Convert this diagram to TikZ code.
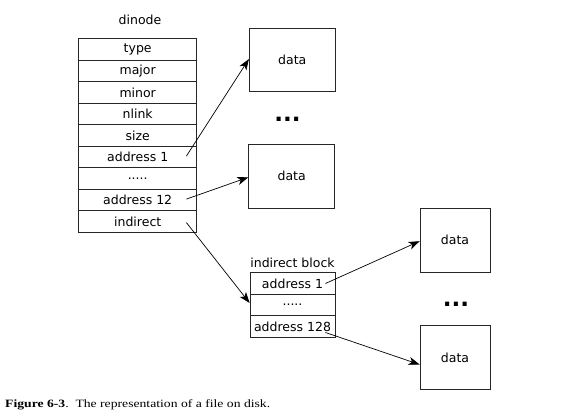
\documentclass[tikz,border=0pt]{standalone}
\usepackage{fontspec}
\setmainfont{Liberation Serif}
\newfontfamily\dejavu{DejaVu Sans}
\newfontfamily\capfont[FakeStretch=1.22]{Liberation Serif}
\usetikzlibrary{arrows.meta}
\begin{document}
\begin{tikzpicture}[x=1pt,y=-1pt,
  row/.style={draw=black!85,line width=0.8pt,minimum width=118pt,minimum height=21.5pt,inner sep=0pt,font=\dejavu\fontsize{12.5}{14}\selectfont},
  irow/.style={draw=black!85,line width=0.8pt,minimum width=85pt,minimum height=21.5pt,inner sep=0pt,font=\dejavu\fontsize{12.5}{14}\selectfont},
  databox/.style={draw=black!85,line width=0.8pt,minimum width=86pt,minimum height=63.5pt,inner sep=0pt,font=\dejavu\fontsize{12.5}{14}\selectfont},
  lbl/.style={font=\dejavu\fontsize{12.5}{14}\selectfont,inner sep=0pt},
  dots/.style={font=\dejavu\bfseries\fontsize{23}{25}\selectfont,inner sep=0pt},
  conn/.style={line width=0.7pt,-{Stealth[length=11pt,width=8pt,inset=3pt]}}]
\useasboundingbox (0,0) rectangle (582,417);
% dinode table
\node[lbl] (dlabel) at (140,20) {dinode};
\node[row] (type)  at (137.7,49.6) {type};
\node[row] (major) at (137.7,71.1) {major};
\node[row] (minor) at (137.7,92.6) {minor};
\node[row] (nlink) at (137.7,114.1) {nlink};
\node[row] (size)  at (137.7,135.6) {size};
\node[row] (addr1) at (137.7,157.1) {address 1};
\node[row] (ddots) at (137.7,178.6) {.....};
\node[row] (addr12) at (137.7,200.1) {address 12};
\node[row] (ind)   at (137.7,221.6) {indirect};
% data boxes
\node[databox] (d1) at (292.3,60) {data};
\node[dots] (dots1) at (287.5,119) {...};
\node[databox] (d2) at (291.7,176.3) {data};
% indirect block
\node[lbl] (iblabel) at (292.5,263) {indirect block};
\node[irow] (ib1) at (292.5,283.5) {address 1};
\node[irow] (ib2) at (292.5,305) {.....};
\node[irow] (ib3) at (292.5,326.5) {address 128};
% data boxes 2
\node[databox,minimum width=70pt] (d3) at (455,240.2) {data};
\node[dots] (dots2) at (456,304) {...};
\node[databox,minimum width=70pt] (d4) at (455,357.5) {data};
% connectors
\draw[conn] ([xshift=-10.7pt,yshift=1pt]addr1.east) -- ([yshift=1pt]d1.west);
\draw[conn] ([xshift=-10.7pt,yshift=1pt]addr12.east) -- ([yshift=-1pt]d2.west);
\draw[conn] ([xshift=-10.7pt,yshift=-1pt]ind.east) -- ([yshift=2pt]ib2.west);
\draw[conn] ([xshift=-10pt]ib1.east) -- ([yshift=-1pt]d3.west);
\draw[conn] ([xshift=-10pt,yshift=-6pt]ib3.east) -- ([yshift=-7pt]d4.west);
% caption
\node[anchor=base west,inner sep=0pt,font=\capfont\fontsize{11.2}{13}\selectfont] (cap) at (5,407) {\textbf{Figure 6-3}.\ \ The representation of a file on disk.};
\end{tikzpicture}
\end{document}
